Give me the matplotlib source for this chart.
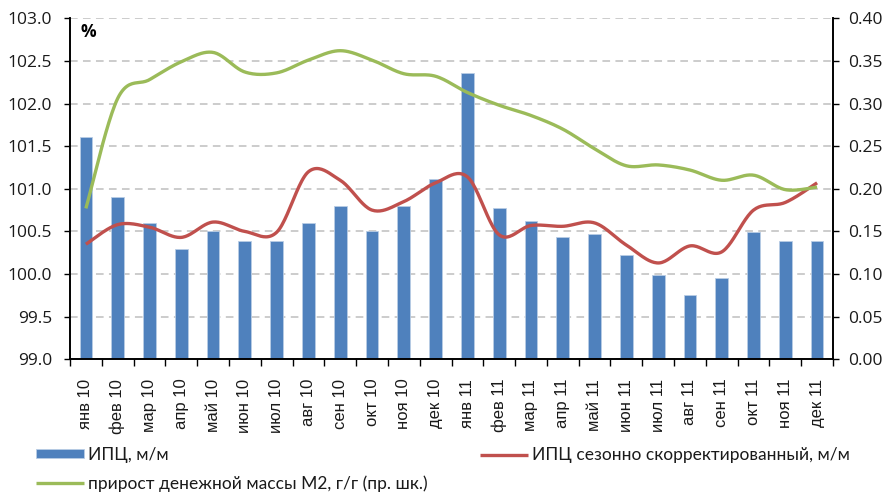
import numpy as np
import matplotlib
matplotlib.use("Agg")
import matplotlib.pyplot as plt

# ---- data ----
categories = ["янв 10", "фев 10", "мар 10", "апр 10", "май 10", "июн 10", "июл 10",
              "авг 10", "сен 10", "окт 10", "ноя 10", "дек 10",
              "янв 11", "фев 11", "мар 11", "апр 11", "май 11", "июн 11", "июл 11",
              "авг 11", "сен 11", "окт 11", "ноя 11", "дек 11"]
cpi_mm = [101.61, 100.90, 100.60, 100.29, 100.50, 100.39, 100.39, 100.60, 100.80, 100.50,
          100.80, 101.11, 102.36, 100.77, 100.62, 100.43, 100.47, 100.22, 99.99, 99.76,
          99.95, 100.49, 100.39, 100.39]
cpi_sa = [100.35, 100.58, 100.55, 100.43, 100.61, 100.50, 100.49, 101.20, 101.10, 100.75,
          100.85, 101.07, 101.14, 100.46, 100.57, 100.56, 100.60, 100.34, 100.13, 100.33,
          100.26, 100.75, 100.84, 101.07]
m2_growth = [0.177, 0.306, 0.328, 0.349, 0.360, 0.337, 0.336, 0.351, 0.362, 0.351,
             0.335, 0.332, 0.313, 0.298, 0.286, 0.270, 0.247, 0.227, 0.228, 0.222,
             0.210, 0.216, 0.199, 0.202]
left_ticks = [99.0, 99.5, 100.0, 100.5, 101.0, 101.5, 102.0, 102.5, 103.0]
right_ticks = [0.00, 0.05, 0.10, 0.15, 0.20, 0.25, 0.30, 0.35, 0.40]
labels = ["ИПЦ, м/м", "ИПЦ сезонно скорректированный, м/м",
          "прирост денежной массы М2, г/г (пр. шк.)"]

BLUE = "#4F81BD"
RED = "#C0504D"
GREEN = "#9BBB59"


def smooth(x, y, n=24):
    pts = np.column_stack([x, y]).astype(float)
    P = np.vstack([pts[0], pts, pts[-1]])
    out = []
    t = np.linspace(0, 1, n, endpoint=False)[:, None]
    for i in range(1, len(P) - 2):
        p0, p1, p2, p3 = P[i - 1], P[i], P[i + 1], P[i + 2]
        seg = 0.5 * ((2 * p1) + (-p0 + p2) * t + (2 * p0 - 5 * p1 + 4 * p2 - p3) * t ** 2
                     + (-p0 + 3 * p1 - 3 * p2 + p3) * t ** 3)
        out.append(seg)
    out.append(P[-2][None])
    s = np.vstack(out)
    return s[:, 0], s[:, 1]


fig = plt.figure(figsize=(8.85, 4.95), dpi=100)
ax = fig.add_axes([70 / 885, 1 - 359.3 / 495, (833 - 70) / 885, (359.3 - 18.3) / 495])
ax2 = ax.twinx()

x = np.arange(len(categories))
bottom = 99.0
bars = ax.bar(x, np.array(cpi_mm) - bottom, bottom=bottom, width=0.4, color=BLUE,
              edgecolor="#B9CDE5", linewidth=0.6, zorder=2, label=labels[0])
sx, sy = smooth(x, cpi_sa)
red_line, = ax.plot(sx, sy, color=RED, lw=2.4, zorder=3, solid_capstyle="butt",
                    label=labels[1])
gx, gy = smooth(x, m2_growth)
green_line, = ax2.plot(gx, gy, color=GREEN, lw=2.4, zorder=3, solid_capstyle="butt",
                       label=labels[2])

ax.set_xlim(-0.5, len(categories) - 0.5)
ax.set_ylim(99.0, 103.0)
ax2.set_ylim(0.0, 0.40)
ax.set_yticks(left_ticks)
ax.set_yticklabels([f"{v:.1f}" for v in left_ticks])
ax2.set_yticks(right_ticks)
ax2.set_yticklabels([f"{v:.2f}" for v in right_ticks])

ax.set_axisbelow(True)
ax.yaxis.grid(True, color="#BFBFBF", linestyle=(0, (5, 3.5)), linewidth=1.1)
ax.xaxis.grid(False)

# x ticks: boundaries (major, unlabeled), centers (minor, labeled)
ax.set_xticks(np.arange(-0.5, len(categories), 1.0))
ax.set_xticklabels([])
ax.set_xticks(x, minor=True)
ax.set_xticklabels(categories, minor=True, rotation=90, fontfamily="Liberation Sans",
                   fontsize=12, color="#1a1a1a")
ax.tick_params(axis="x", which="major", direction="out", length=5, width=1, color="black")
ax.tick_params(axis="x", which="minor", length=0, pad=14)
ax.tick_params(axis="y", direction="out", length=4, width=1, pad=9, labelsize=12.5,
               labelcolor="#1a1a1a")
ax2.tick_params(axis="y", direction="out", length=4, width=1, pad=7, labelsize=12.5,
                labelcolor="#1a1a1a")
for lab in ax.get_yticklabels() + ax2.get_yticklabels():
    lab.set_fontfamily("Open Sans")

for a in (ax, ax2):
    a.spines["top"].set_visible(False)
    a.spines["left"].set_color("black")
    a.spines["right"].set_color("black")
    a.spines["bottom"].set_color("black")
    a.spines["left"].set_linewidth(1.2)
    a.spines["right"].set_linewidth(1.2)
    a.spines["bottom"].set_linewidth(1.2)

ax.text(0.014, 0.985, "%", transform=ax.transAxes, ha="left", va="top",
        fontfamily="Open Sans", fontweight="bold", fontsize=12.5, color="black")

leg = fig.legend([bars, green_line, red_line], [labels[0], labels[2], labels[1]],
                 loc="upper left", bbox_to_anchor=(36 / 885, 1 - 447 / 495), ncol=2,
                 frameon=False, prop={"family": "Lato", "size": 12.5},
                 handlelength=2.75, handleheight=0.45, handletextpad=0.25,
                 columnspacing=3.0, labelspacing=0.7, borderpad=0, borderaxespad=0)
for t in leg.get_texts():
    t.set_color("#1a1a1a")

fig.savefig("out.png", dpi=100)
